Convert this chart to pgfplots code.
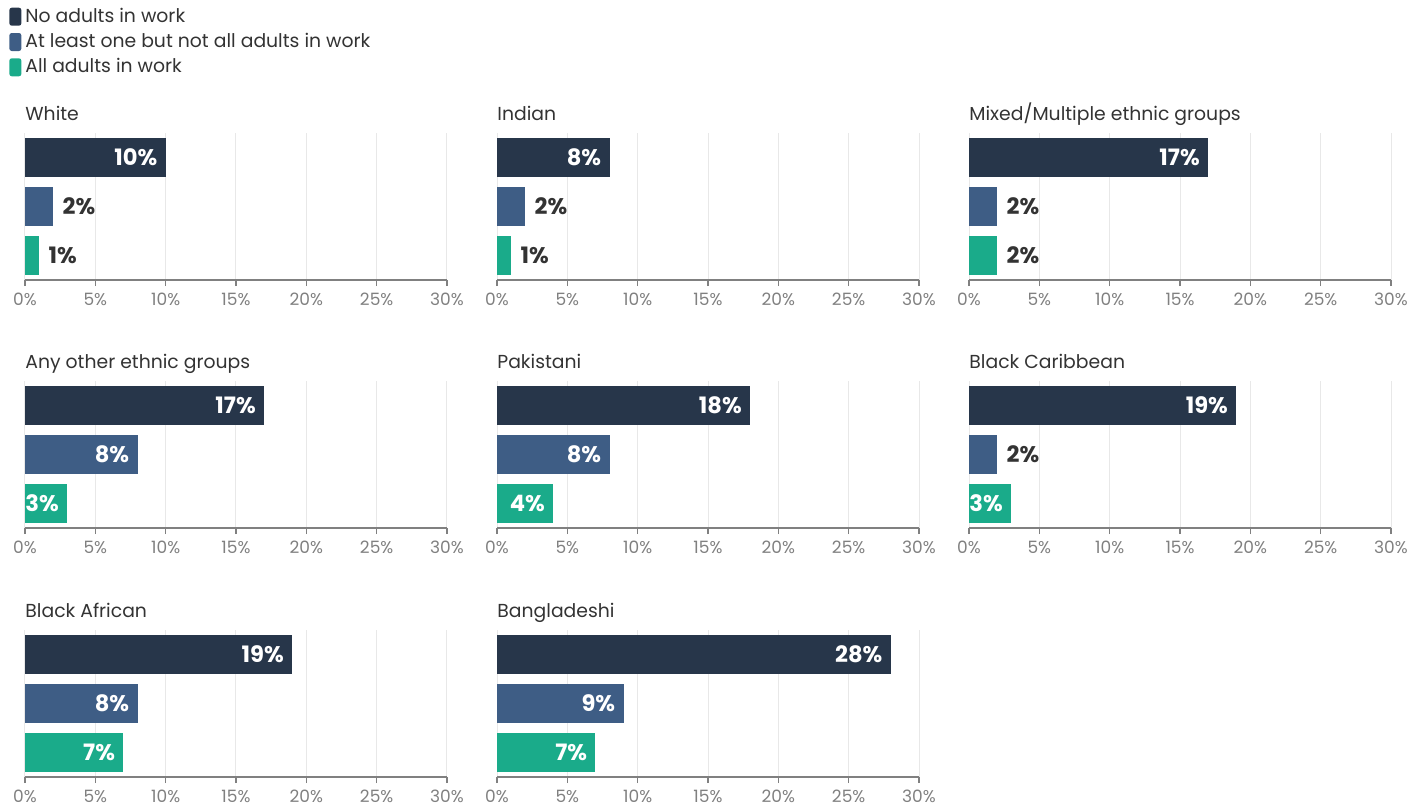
\documentclass[border=0pt]{standalone}
\usepackage{fontspec}
\setmainfont{Poppins}
\usepackage{pgfplots}
\pgfplotsset{compat=1.18}

\definecolor{cnone}{HTML}{27364A}
\definecolor{csome}{HTML}{3E5D85}
\definecolor{call}{HTML}{1AAB8A}
\definecolor{txt}{HTML}{333333}
\definecolor{tck}{HTML}{808080}
\definecolor{grd}{HTML}{E8E8E8}

\pgfplotsset{
  panel/.style={
    scale only axis, width=211pt, height=73.5pt,
    anchor=south west,
    xmin=0, xmax=30, ymin=-0.5, ymax=2.5,
    xbar, bar width=19.5pt, bar shift=0pt,
    axis x line*=bottom, axis y line=none,
    xtick={0,5,...,30}, ytick=\empty,
    xticklabel={\pgfmathprintnumber{\tick}\%},
    xmajorgrids, major grid style={grd, line width=0.5pt},
    tick align=outside, major tick length=3pt,
    x axis line style={-, tck, line width=0.6pt},
    tick style={tck, line width=0.6pt},
    ticklabel style={font=\fontsize{8.5}{10}\selectfont, text=tck},
    /pgf/number format/assume math mode=true,
    clip=false,
    title style={at={(0,1)}, anchor=base west, yshift=0.5pt, inner sep=0pt,
      font=\fontsize{9.4}{11}\selectfont, text=txt},
    point meta=x,
    nodes near coords={\pgfmathprintnumber{\pgfplotspointmeta}\%},
    nodes near coords style={font=\bfseries\fontsize{11.3}{13}\selectfont},
  },
  in/.style={nodes near coords style={anchor=east, xshift=-0.7pt, text=white}},
  out/.style={nodes near coords style={anchor=west, xshift=1.2pt, text=txt}},
  sq/.style={legend image code/.code={
    \fill[##1, rounded corners=1.2pt] (0pt,-4.5pt) rectangle (6pt,4.5pt);}},
}

\begin{document}
\begin{tikzpicture}
\useasboundingbox (0,0) rectangle (712pt,-405pt);

% row 1
\begin{axis}[panel, at={(12.5pt,-140pt)}, title={White},
  legend style={at={(axis description cs:-0.038,1.88)}, anchor=north west,
    draw=none, fill=none, inner sep=0pt, row sep=0pt,
    font=\fontsize{9.4}{11}\selectfont, text=txt,
    cells={anchor=west}}]
\addplot[fill=cnone, draw=none, in, sq] coordinates {(10,2)};
\addplot[fill=csome, draw=none, out, sq] coordinates {(2,1)};
\addplot[fill=call, draw=none, out, sq] coordinates {(1,0)};
\legend{No adults in work, At least one but not all adults in work, All adults in work}
\end{axis}

\begin{axis}[panel, at={(248.5pt,-140pt)}, title={Indian}]
\addplot[fill=cnone, draw=none, in] coordinates {(8,2)};
\addplot[fill=csome, draw=none, out] coordinates {(2,1)};
\addplot[fill=call, draw=none, out] coordinates {(1,0)};
\end{axis}

\begin{axis}[panel, at={(484.5pt,-140pt)}, title={Mixed/Multiple ethnic groups}]
\addplot[fill=cnone, draw=none, in] coordinates {(17,2)};
\addplot[fill=csome, draw=none, out] coordinates {(2,1)};
\addplot[fill=call, draw=none, out] coordinates {(2,0)};
\end{axis}

% row 2
\begin{axis}[panel, at={(12.5pt,-264pt)}, title={Any other ethnic groups}]
\addplot[fill=cnone, draw=none, in] coordinates {(17,2)};
\addplot[fill=csome, draw=none, in] coordinates {(8,1)};
\addplot[fill=call, draw=none, in] coordinates {(3,0)};
\end{axis}

\begin{axis}[panel, at={(248.5pt,-264pt)}, title={Pakistani}]
\addplot[fill=cnone, draw=none, in] coordinates {(18,2)};
\addplot[fill=csome, draw=none, in] coordinates {(8,1)};
\addplot[fill=call, draw=none, in] coordinates {(4,0)};
\end{axis}

\begin{axis}[panel, at={(484.5pt,-264pt)}, title={Black Caribbean}]
\addplot[fill=cnone, draw=none, in] coordinates {(19,2)};
\addplot[fill=csome, draw=none, out] coordinates {(2,1)};
\addplot[fill=call, draw=none, in] coordinates {(3,0)};
\end{axis}

% row 3
\begin{axis}[panel, at={(12.5pt,-388.5pt)}, title={Black African}]
\addplot[fill=cnone, draw=none, in] coordinates {(19,2)};
\addplot[fill=csome, draw=none, in] coordinates {(8,1)};
\addplot[fill=call, draw=none, in] coordinates {(7,0)};
\end{axis}

\begin{axis}[panel, at={(248.5pt,-388.5pt)}, title={Bangladeshi}]
\addplot[fill=cnone, draw=none, in] coordinates {(28,2)};
\addplot[fill=csome, draw=none, in] coordinates {(9,1)};
\addplot[fill=call, draw=none, in] coordinates {(7,0)};
\end{axis}

\end{tikzpicture}
\end{document}
